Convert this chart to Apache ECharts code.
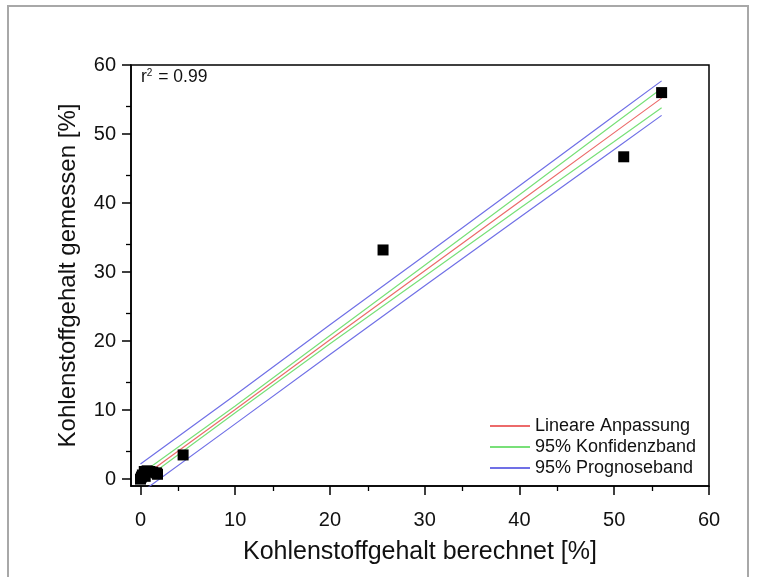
<!DOCTYPE html>
<html>
<head>
<meta charset="utf-8">
<script src="https://cdn.jsdelivr.net/npm/echarts@6/dist/echarts.min.js"></script>
<style>html,body{margin:0;padding:0;background:#fff;}#c{width:757px;height:577px;}</style>
</head>
<body>
<div id="c"></div>
<script>
// measured data (x = berechnet, y = gemessen)
var pointsX = [0.0, 0.1, 0.2, 0.4, 0.7, 1.0, 1.3, 1.7, 1.8, 0.5, 4.5, 25.6, 51.0, 55.0];
var pointsY = [0.0, 0.3, 0.6, 1.1, 1.2, 1.1, 1.0, 0.9, 0.7, 0.4, 3.5, 33.2, 46.7, 56.0];
// fit and bands, read at sample x positions
var fitX      = [0, 10, 20, 30, 40, 50, 55];
var fitY      = [0.1, 10.1, 20.2, 30.2, 40.2, 50.2, 55.2];
var confUpper = [0.7, 10.6, 20.8, 31.0, 41.2, 51.5, 56.6];
var confLower = [-0.5, 9.6, 19.6, 29.4, 39.2, 48.9, 53.8];
var predUpper = [2.2, 12.2, 22.35, 32.4, 42.5, 52.65, 57.7];
var predLower = [-2.0, 8.0, 18.05, 28.0, 37.9, 47.75, 52.7];
var xTicks = [0, 10, 20, 30, 40, 50, 60];
var yTicks = [0, 10, 20, 30, 40, 50, 60];

function pairs(xs, ys) { return xs.map(function (x, i) { return [x, ys[i]]; }); }

var FONT = '"Liberation Sans", Arial, sans-serif';
var chart = echarts.init(document.getElementById('c'));
var axisCommon = {
  type: 'value', min: -1, max: 60, interval: 10,
  axisLine: { show: true, onZero: false, lineStyle: { color: '#000', width: 1.5 } },
  axisTick: { show: true, length: 9, inside: false, lineStyle: { color: '#000', width: 1.5 } },
  minorTick: { show: true, splitNumber: 2, length: 5, lineStyle: { color: '#000', width: 1.3 } },
  splitLine: { show: false },
  nameLocation: 'middle',
  nameTextStyle: { fontFamily: FONT, fontSize: 25, color: '#111' }
};
var option = {
  backgroundColor: '#fff',
  animation: false,
  grid: { left: 131, top: 65, width: 578, height: 421, containLabel: false,
    show: true, borderColor: '#000', borderWidth: 1.5, backgroundColor: 'transparent' },
  xAxis: [Object.assign({}, axisCommon, {
    name: 'Kohlenstoffgehalt berechnet [%]', nameGap: 54,
    axisTick: Object.assign({}, axisCommon.axisTick, { customValues: xTicks }),
    axisLabel: { fontFamily: FONT, fontSize: 20, color: '#111', margin: 24,
      customValues: xTicks }
  })],
  yAxis: [Object.assign({}, axisCommon, {
    name: 'Kohlenstoffgehalt gemessen [%]', nameGap: 51,
    nameTextStyle: { fontFamily: FONT, fontSize: 24, color: '#111' },
    axisTick: Object.assign({}, axisCommon.axisTick, { customValues: yTicks }),
    axisLabel: { fontFamily: FONT, fontSize: 20, color: '#111', margin: 15,
      customValues: yTicks }
  })],
  legend: {
    orient: 'vertical', left: 485, top: 412, itemWidth: 40, itemHeight: 2, itemGap: 3,
    icon: 'rect',
    textStyle: { fontFamily: FONT, fontSize: 18, lineHeight: 18, color: '#111' },
    data: ['Lineare Anpassung', '95% Konfidenzband', '95% Prognoseband']
  },
  graphic: [
    { type: 'rect', shape: { x: 8, y: 6, width: 740, height: 600 }, silent: true,
      style: { fill: 'none', stroke: '#a8a8a8', lineWidth: 2 } },
    { type: 'text', left: 141, top: 68, silent: true,
      style: { text: '{b|r}{s|2}{b| = 0.99}', fill: '#111',
        rich: { b: { fontFamily: FONT, fontSize: 17.5, color: '#111' },
                s: { fontFamily: FONT, fontSize: 10, color: '#111', verticalAlign: 'top', padding: [0, 1, 8, 0] } } } }
  ],
  series: [
    { name: '95% Prognoseband', type: 'line', data: pairs(fitX, predUpper), showSymbol: false, symbol: 'none',
      lineStyle: { color: '#7070e6', width: 1.2 }, itemStyle: { color: '#7070e6' }, clip: true, z: 2 },
    { name: '95% Prognoseband', type: 'line', data: pairs(fitX, predLower), showSymbol: false, symbol: 'none',
      lineStyle: { color: '#7070e6', width: 1.2 }, itemStyle: { color: '#7070e6' }, clip: true, z: 2 },
    { name: '95% Konfidenzband', type: 'line', data: pairs(fitX, confUpper), showSymbol: false, symbol: 'none',
      lineStyle: { color: '#78e078', width: 1.2 }, itemStyle: { color: '#78e078' }, clip: true, z: 3 },
    { name: '95% Konfidenzband', type: 'line', data: pairs(fitX, confLower), showSymbol: false, symbol: 'none',
      lineStyle: { color: '#78e078', width: 1.2 }, itemStyle: { color: '#78e078' }, clip: true, z: 3 },
    { name: 'Lineare Anpassung', type: 'line', data: pairs(fitX, fitY), showSymbol: false, symbol: 'none',
      lineStyle: { color: '#ec6a6a', width: 1.2 }, itemStyle: { color: '#ec6a6a' }, clip: true, z: 4 },
    { name: 'Messwerte', type: 'scatter', data: pairs(pointsX, pointsY), symbol: 'rect', symbolSize: 11,
      itemStyle: { color: '#000', opacity: 1 }, z: 5 }
  ]
};
chart.setOption(option);
</script>
</body>
</html>
